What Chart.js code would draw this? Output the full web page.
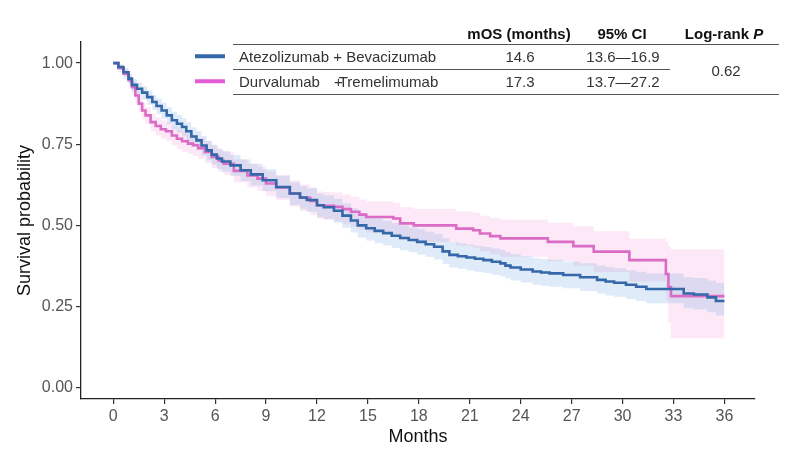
<!DOCTYPE html>
<html>
<head>
<meta charset="utf-8">
<title>KM curves</title>
<script src="https://cdn.jsdelivr.net/npm/chart.js@4.4.1/dist/chart.umd.min.js"></script>
<style>
html, body { margin: 0; padding: 0; background: #fff; }
#wrap { position: relative; width: 800px; height: 455px; }
#chartBox { position: absolute; left: 0; top: 0; width: 800px; height: 455px; }
.t { position: absolute; font-family: "Liberation Sans", Arial, sans-serif; font-size: 15px; color: #333; white-space: pre; transform: translate(-50%, -50%); line-height: 1; }
.lt { transform: translate(0, -50%); }
.hd { font-weight: bold; color: #111; }
.rule { position: absolute; height: 0; border-top: 1.3px solid #555; }
.key { position: absolute; height: 3.5px; transform: translateY(-50%); }
</style>
</head>
<body>
<div id="wrap">
  <div id="chartBox"><canvas id="kmChart"></canvas></div>

  <!-- 右上の表 (mOS / 95% CI / Log-rank P) -->
  <div class="t hd" style="left:519px; top:33px;">mOS (months)</div>
  <div class="t hd" style="left:622px; top:33px;">95% CI</div>
  <div class="t hd" style="left:724px; top:33px;">Log-rank <i>P</i></div>
  <div class="rule" style="left:233px; top:44px; width:546px;"></div>

  <div class="key" style="left:195px; top:56px; width:30px; background:#3568a8;"></div>
  <div class="t lt" style="left:239px; top:56px;">Atezolizumab + Bevacizumab</div>
  <div class="t" style="left:520px; top:56px;">14.6</div>
  <div class="t" style="left:623px; top:56px;">13.6—16.9</div>
  <div class="rule" style="left:233px; top:68.5px; width:437px;"></div>

  <div class="key" style="left:195px; top:81px; width:30px; background:#e45cd8;"></div>
  <div class="t lt" style="left:239px; top:81px;">Durvalumab</div>
  <div class="t lt" style="left:334px; top:81px;"><span style="margin-right:-4px">+</span>Tremelimumab</div>
  <div class="t" style="left:520px; top:81px;">17.3</div>
  <div class="t" style="left:623px; top:81px;">13.7—27.2</div>

  <div class="t" style="left:726px; top:70px;">0.62</div>
  <div class="rule" style="left:233px; top:94px; width:546px;"></div>
</div>

<script>
// --- データ ---

// 目盛り
const xTicks = [0, 3, 6, 9, 12, 15, 18, 21, 24, 27, 30, 33, 36];
const yTicks = [0, 0.25, 0.5, 0.75, 1.0];

// Atezolizumab + Bevacizumab
const atezoMonths = [0, 0.3, 0.6, 0.9, 1.1, 1.4, 1.7, 2.0, 2.3, 2.55, 2.85, 3.15, 3.45, 3.75, 4.05, 4.3, 4.6, 4.9, 5.2, 5.5,
  5.8, 6.1, 6.4, 6.9, 7.5, 8.1, 8.8, 9.6, 10.4, 11.0, 11.4, 12.0, 12.4, 13.0, 13.5, 14.0, 14.4, 14.9, 15.4, 15.9,
  16.4, 16.9, 17.4, 17.9, 18.4, 18.9, 19.4, 19.8, 20.3, 20.8, 21.3, 21.8, 22.3, 22.8, 23.1, 23.4, 24.0, 24.7, 25.2, 25.7,
  26.5, 27.5, 28.5, 29.0, 29.5, 30.2, 30.8, 31.4, 33.6, 34.2, 35.0, 35.5, 36.0];
const atezoSurv = [1.0, 0.988, 0.972, 0.952, 0.933, 0.921, 0.909, 0.895, 0.880, 0.868, 0.854, 0.839, 0.824, 0.813, 0.803, 0.790, 0.774, 0.762, 0.746, 0.731,
  0.718, 0.706, 0.697, 0.685, 0.670, 0.657, 0.639, 0.618, 0.598, 0.586, 0.578, 0.562, 0.556, 0.545, 0.530, 0.515, 0.500, 0.491, 0.483, 0.476,
  0.468, 0.461, 0.455, 0.449, 0.442, 0.434, 0.420, 0.409, 0.405, 0.401, 0.397, 0.393, 0.388, 0.383, 0.376, 0.370, 0.364, 0.358, 0.355, 0.352,
  0.347, 0.340, 0.332, 0.327, 0.323, 0.317, 0.311, 0.304, 0.290, 0.287, 0.278, 0.267, 0.267];
const atezoLower = [1.0, 0.978, 0.958, 0.936, 0.914, 0.900, 0.887, 0.872, 0.856, 0.843, 0.828, 0.812, 0.796, 0.785, 0.774, 0.761, 0.744, 0.732, 0.715, 0.700,
  0.687, 0.674, 0.665, 0.652, 0.637, 0.623, 0.605, 0.584, 0.563, 0.551, 0.542, 0.526, 0.520, 0.508, 0.493, 0.478, 0.463, 0.453, 0.445, 0.438,
  0.430, 0.423, 0.417, 0.410, 0.403, 0.395, 0.381, 0.370, 0.366, 0.361, 0.357, 0.353, 0.348, 0.343, 0.336, 0.330, 0.324, 0.317, 0.314, 0.311,
  0.306, 0.298, 0.290, 0.284, 0.280, 0.273, 0.267, 0.260, 0.245, 0.241, 0.232, 0.222, 0.222];
const atezoUpper = [1.0, 0.996, 0.984, 0.966, 0.950, 0.940, 0.929, 0.916, 0.902, 0.891, 0.878, 0.864, 0.850, 0.840, 0.830, 0.818, 0.802, 0.791, 0.775, 0.761,
  0.749, 0.737, 0.729, 0.717, 0.703, 0.690, 0.673, 0.653, 0.633, 0.621, 0.614, 0.598, 0.593, 0.582, 0.567, 0.553, 0.538, 0.529, 0.521, 0.514,
  0.507, 0.500, 0.494, 0.488, 0.481, 0.474, 0.460, 0.449, 0.445, 0.441, 0.437, 0.433, 0.429, 0.424, 0.417, 0.411, 0.405, 0.399, 0.396, 0.394,
  0.389, 0.383, 0.376, 0.371, 0.368, 0.362, 0.357, 0.352, 0.340, 0.338, 0.330, 0.323, 0.323];

// Durvalumab + Tremelimumab
const durvaMonths = [0, 0.3, 0.6, 0.9, 1.1, 1.3, 1.5, 1.7, 1.9, 2.2, 2.5, 2.8, 3.1, 3.45, 3.75, 4.05, 4.4, 4.7, 5.0, 5.4,
  5.8, 6.2, 6.5, 7.1, 7.9, 8.5, 9.0, 9.6, 10.4, 11.0, 11.6, 12.0, 12.4, 13.0, 13.5, 14.0, 14.5, 14.9, 16.5, 16.9,
  17.7, 20.2, 21.2, 21.6, 22.2, 22.8, 25.6, 27.1, 28.3, 30.4, 32.55, 32.7, 32.85, 36.0];
const durvaSurv = [1.0, 0.985, 0.967, 0.947, 0.926, 0.900, 0.875, 0.854, 0.839, 0.818, 0.806, 0.796, 0.790, 0.777, 0.767, 0.759, 0.752, 0.747, 0.738, 0.726,
  0.711, 0.700, 0.690, 0.668, 0.654, 0.644, 0.629, 0.617, 0.598, 0.585, 0.575, 0.562, 0.560, 0.557, 0.550, 0.542, 0.533, 0.526, 0.521, 0.506,
  0.500, 0.490, 0.485, 0.475, 0.467, 0.460, 0.449, 0.436, 0.419, 0.393, 0.350, 0.310, 0.282, 0.282];
const durvaLower = [1.0, 0.972, 0.950, 0.927, 0.904, 0.876, 0.850, 0.828, 0.812, 0.790, 0.777, 0.767, 0.760, 0.746, 0.736, 0.727, 0.720, 0.714, 0.705, 0.692,
  0.677, 0.665, 0.655, 0.632, 0.617, 0.606, 0.590, 0.578, 0.558, 0.544, 0.533, 0.520, 0.517, 0.513, 0.505, 0.496, 0.486, 0.478, 0.472, 0.456,
  0.449, 0.437, 0.431, 0.420, 0.411, 0.403, 0.390, 0.375, 0.356, 0.327, 0.270, 0.200, 0.152, 0.152];
const durvaUpper = [1.0, 0.995, 0.981, 0.964, 0.945, 0.921, 0.898, 0.878, 0.864, 0.844, 0.833, 0.824, 0.818, 0.806, 0.797, 0.789, 0.783, 0.778, 0.770, 0.759,
  0.745, 0.734, 0.725, 0.704, 0.691, 0.681, 0.667, 0.656, 0.638, 0.626, 0.617, 0.604, 0.603, 0.601, 0.595, 0.588, 0.580, 0.574, 0.570, 0.556,
  0.551, 0.543, 0.539, 0.530, 0.523, 0.517, 0.508, 0.497, 0.482, 0.459, 0.450, 0.435, 0.426, 0.426];

const FONT = '"Liberation Sans", Arial, sans-serif';
Chart.defaults.font.family = FONT;

function toPoints(xs, ys) {
    return xs.map((x, i) => ({ x: x, y: ys[i] }));
}

function buildKmChart() {
    const canvas = document.getElementById('kmChart');
    if (!canvas) return;

    const lineBase = { stepped: 'before', pointRadius: 0, borderWidth: 2.6, fill: false };
    const bandBase = { stepped: 'before', pointRadius: 0, borderWidth: 0, borderColor: 'rgba(0,0,0,0)' };

    const datasets = [
        // 先頭のデータセットが最前面に描かれる
        Object.assign({ label: 'Atezolizumab + Bevacizumab', data: toPoints(atezoMonths, atezoSurv), borderColor: '#3568a8' }, lineBase),
        Object.assign({ label: 'Durvalumab + Tremelimumab', data: toPoints(durvaMonths, durvaSurv), borderColor: '#db6cc6' }, lineBase),
        Object.assign({ label: 'atezo upper', data: toPoints(atezoMonths, atezoUpper), fill: false }, bandBase),
        Object.assign({ label: 'atezo lower', data: toPoints(atezoMonths, atezoLower), fill: 2, backgroundColor: 'rgba(110,165,225,0.22)' }, bandBase),
        Object.assign({ label: 'durva upper', data: toPoints(durvaMonths, durvaUpper), fill: false }, bandBase),
        Object.assign({ label: 'durva lower', data: toPoints(durvaMonths, durvaLower), fill: 4, backgroundColor: 'rgba(240,150,215,0.22)' }, bandBase)
    ];

    const axisGrid = { drawOnChartArea: false, drawTicks: true, tickLength: 5, color: '#333', lineWidth: 1.2 };
    const axisBorder = { display: true, color: '#222', width: 1.3 };

    new Chart(canvas.getContext('2d'), {
        type: 'line',
        data: { datasets: datasets },
        options: {
            responsive: true,
            maintainAspectRatio: false,
            animation: false,
            events: [],
            layout: { padding: { left: 0, right: 45, top: 42, bottom: 0 } },
            plugins: { legend: { display: false }, tooltip: { enabled: false } },
            scales: {
                x: {
                    type: 'linear',
                    min: -1.9,
                    max: 37.8,
                    bounds: 'data',
                    afterBuildTicks: s => { s.ticks = xTicks.map(v => ({ value: v })); },
                    afterFit: s => { s.height = 56; },
                    grid: axisGrid,
                    border: axisBorder,
                    ticks: { font: { size: 16 }, color: '#555', padding: 3, maxRotation: 0, autoSkip: false },
                    title: { display: true, text: 'Months', font: { size: 18 }, color: '#111', padding: { top: 0, bottom: 7 } }
                },
                y: {
                    type: 'linear',
                    min: -0.035,
                    max: 1.065,
                    bounds: 'data',
                    afterBuildTicks: s => { s.ticks = yTicks.map(v => ({ value: v })); },
                    afterFit: s => { s.width = 81; },
                    grid: axisGrid,
                    border: axisBorder,
                    ticks: { font: { size: 16 }, color: '#555', padding: 3, callback: v => Number(v).toFixed(2) },
                    title: { display: true, text: 'Survival probability', font: { size: 18 }, color: '#111', padding: { top: 14, bottom: 0 } }
                }
            }
        }
    });
}

document.addEventListener('DOMContentLoaded', buildKmChart);
</script>
</body>
</html>
